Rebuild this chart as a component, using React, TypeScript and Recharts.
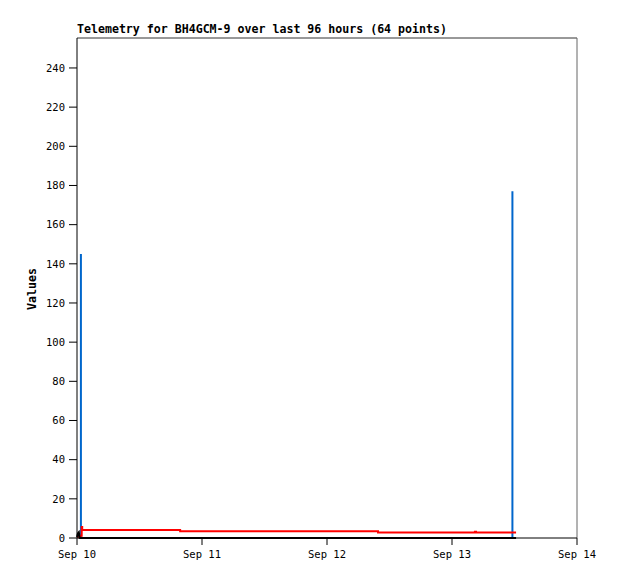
import { ComposedChart, Line, XAxis, YAxis, ReferenceLine } from 'recharts'

// x values are hours since Sep 10 00:00
const xTicks = [0, 24, 48, 72, 96]
const xTickLabels = ['Sep 10', 'Sep 11', 'Sep 12', 'Sep 13', 'Sep 14']
const yTicks = [0, 20, 40, 60, 80, 100, 120, 140, 160, 180, 200, 220, 240]

// red series (stepped)
const redHours = [0.0, 0.3, 0.6, 0.9, 1.0, 19.8, 57.8, 76.4, 76.6, 84.3]
const redValues = [0.6, 1.0, 1.2, 5.6, 4.1, 3.4, 2.8, 3.2, 2.8, 2.8]

// blue series (impulses)
const blueHours = [0.75, 0.75, 0.75, 83.6, 83.6, 83.6]
const blueValues = [0, 145, 0, 0, 177, 0]

// black series
const blackHours = [0.0, 0.2, 0.35, 0.5, 84.3]
const blackValues = [0.5, 2.5, 3.0, 0, 0]

const toRows = (hs: number[], vs: number[]) => hs.map((h, i) => ({ h, v: vs[i] }))

const mono = '"DejaVu Sans Mono", "Liberation Mono", monospace'

export default function App() {
    const red = toRows(redHours, redValues)
    const blue = toRows(blueHours, blueValues)
    const black = toRows(blackHours, blackValues)

    return (
        <div style={{ position: 'absolute', left: 0, top: 0, width: 618, height: 579, background: '#fff' }}>
            <div style={{ position: 'absolute', left: 77, top: 22, fontFamily: mono, fontWeight: 'bold', fontSize: 11.6, whiteSpace: 'nowrap' }}>
                Telemetry for BH4GCM-9 over last 96 hours (64 points)
            </div>
            <div
                style={{
                    position: 'absolute', left: 32, top: 289, fontFamily: mono, fontWeight: 'bold', fontSize: 11.6,
                    transform: 'translate(-50%, -50%) rotate(-90deg)', whiteSpace: 'nowrap',
                }}
            >
                Values
            </div>
            <ComposedChart width={618} height={579} margin={{ top: 38, right: 41, bottom: 0, left: 0 }}>
                <XAxis
                    dataKey="h"
                    type="number"
                    domain={[0, 96]}
                    ticks={xTicks}
                    tickFormatter={(v: number) => xTickLabels[xTicks.indexOf(v)]}
                    allowDuplicatedCategory
                    height={41}
                    tickSize={7}
                    stroke="#000"
                    tick={{ fill: '#000', fontFamily: mono, fontSize: 10.5, dy: 4 }}
                />
                <YAxis
                    type="number"
                    domain={[0, 255.3]}
                    ticks={yTicks}
                    width={77}
                    tickSize={8}
                    stroke="#000"
                    tick={{ fill: '#000', fontFamily: mono, fontSize: 10.5, dx: -2 }}
                />
                <ReferenceLine y={255.3} stroke="#333" ifOverflow="extendDomain" />
                <ReferenceLine x={96} stroke="#666" />
                <Line data={blue} dataKey="v" type="linear" stroke="#0066cc" strokeWidth={2} dot={false} isAnimationActive={false} />
                <Line data={red} dataKey="v" type="stepAfter" stroke="#ff0000" strokeWidth={2} dot={false} isAnimationActive={false} />
                <Line data={black} dataKey="v" type="linear" stroke="#000" strokeWidth={2} dot={false} isAnimationActive={false} />
            </ComposedChart>
        </div>
    )
}
